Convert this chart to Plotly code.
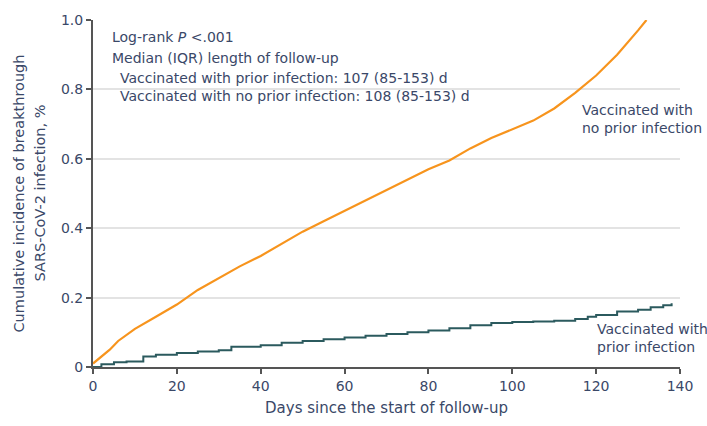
import plotly.graph_objects as go

# Data
days_no_prior = [0, 2, 4, 6, 10, 15, 20, 25, 30, 35, 40, 45, 50, 55, 60, 65, 70, 75, 80, 85,
                 90, 95, 100, 105, 110, 115, 120, 125, 130, 132]
inc_no_prior = [0.01, 0.03, 0.05, 0.075, 0.11, 0.145, 0.18, 0.222, 0.255, 0.29, 0.32, 0.355,
                0.39, 0.42, 0.45, 0.48, 0.51, 0.54, 0.57, 0.595, 0.63, 0.66, 0.685, 0.71,
                0.745, 0.79, 0.84, 0.9, 0.97, 1.0]

days_prior = [0, 2, 5, 8, 12, 15, 20, 25, 30, 33, 40, 45, 50, 55, 60, 65, 70, 75, 80, 85,
              90, 95, 100, 105, 110, 115, 118, 120, 125, 130, 133, 136, 138]
inc_prior = [0.0, 0.008, 0.014, 0.016, 0.03, 0.035, 0.04, 0.045, 0.048, 0.058, 0.063, 0.07,
             0.075, 0.08, 0.085, 0.09, 0.095, 0.1, 0.105, 0.112, 0.12, 0.127, 0.13, 0.131,
             0.133, 0.138, 0.145, 0.15, 0.16, 0.165, 0.172, 0.178, 0.184]

x_ticks = [0, 20, 40, 60, 80, 100, 120, 140]
y_ticks = [0, 0.2, 0.4, 0.6, 0.8, 1.0]
y_tick_labels = ["0", "0.2", "0.4", "0.6", "0.8", "1.0"]

ORANGE = "#F7941D"
TEAL = "#2B5A5E"
TXT = "#3A4868"
FONT = "DejaVu Sans, Noto Sans, Liberation Sans, Arial"

fig = go.Figure()
fig.add_trace(go.Scatter(x=days_no_prior, y=inc_no_prior, mode="lines",
                         line=dict(color=ORANGE, width=2.2), showlegend=False))
fig.add_trace(go.Scatter(x=days_prior, y=inc_prior, mode="lines",
                         line=dict(color=TEAL, width=2.0, shape="hv"), showlegend=False))

fig.update_layout(
    width=707, height=426,
    margin=dict(l=93, r=27, t=14, b=57),
    paper_bgcolor="white", plot_bgcolor="white",
    font=dict(family=FONT, size=14, color=TXT),
    xaxis=dict(range=[0, 140], tickvals=x_ticks, showgrid=False, zeroline=False,
               showline=True, linecolor="#555555", linewidth=2,
               ticks="outside", ticklen=5, tickcolor="#555555", tickwidth=1.5,
               tickfont=dict(size=14, color=TXT),
               title=dict(text="Days since the start of follow-up", standoff=10,
                          font=dict(size=15, color=TXT))),
    yaxis=dict(range=[0, 1.0], tickvals=y_ticks, ticktext=y_tick_labels,
               showgrid=True, gridcolor="#E3E3E3", gridwidth=1.5, zeroline=False,
               showline=True, linecolor="#555555", linewidth=2,
               ticks="outside", ticklen=5, tickcolor="#555555", tickwidth=1.5,
               tickfont=dict(size=14, color=TXT)),
)

# y-axis title as two rotated lines
for text, px in [("Cumulative incidence of breakthrough", 18),
                 ("SARS-CoV-2 infection, %", 39)]:
    fig.add_annotation(text=text, xref="paper", yref="paper",
                       x=(px - 93) / (680 - 93), y=0.5, textangle=-90,
                       xanchor="center", yanchor="middle", showarrow=False,
                       font=dict(size=14.5, color=TXT, family=FONT))

ann = [
    ("Log-rank <i>P</i> <.001", 110, 31, 14),
    ("Median (IQR) length of follow-up", 110, 53, 14),
    ("Vaccinated with prior infection: 107 (85-153) d", 118, 73, 14),
    ("Vaccinated with no prior infection: 108 (85-153) d", 118, 92, 14),
    ("Vaccinated with<br>no prior infection", 580, 115, 14),
    ("Vaccinated with<br>prior infection", 595, 339, 14),
]
for text, px, py, fs in ann:
    fig.add_annotation(text=text, xref="paper", yref="paper",
                       x=(px - 93) / (680 - 93), y=(369 - py) / (369 - 14),
                       xanchor="left", yanchor="middle", align="left", showarrow=False,
                       font=dict(size=fs, color=TXT, family=FONT))

fig.write_html("out.html")
